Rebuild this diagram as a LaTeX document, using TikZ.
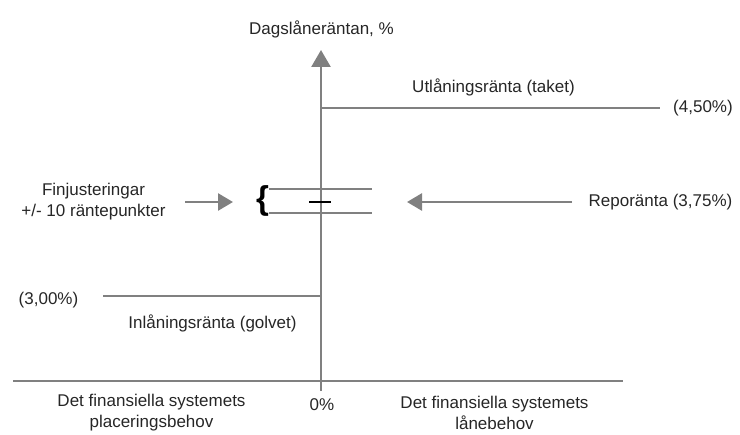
\documentclass[tikz,border=0pt]{standalone}
\usepackage{fontspec}
\setmainfont{Liberation Sans}
\usetikzlibrary{arrows.meta}
\definecolor{axisgray}{RGB}{128,128,128}
\begin{document}
\begin{tikzpicture}[x=1bp,y=-1bp,
  lbl/.style={inner sep=0pt,font=\fontsize{17bp}{21bp}\selectfont,text=black!85},
  lbltwo/.style={lbl,align=center},
  axisline/.style={draw=axisgray,line width=2.6bp},
  rateline/.style={draw=axisgray,line width=2.6bp},
  bandline/.style={draw=axisgray,line width=2bp},
  tickline/.style={draw=black,line width=1.1bp},
  grayarrow/.style={draw=axisgray,line width=2.6bp,-{Triangle[length=15bp,width=17bp]},fill=axisgray},
  uparrow/.style={draw=axisgray,line width=2.6bp,-{Triangle[length=17bp,width=19bp]},fill=axisgray}
]
\useasboundingbox (0,0) rectangle (740,435);
% coordinates
\coordinate (vbot) at (321,391);
\coordinate (vtop) at (321,50);
\coordinate (hleft) at (13,381);
\coordinate (hright) at (623,381);
\coordinate (utlA) at (321,108);
\coordinate (utlB) at (660,108);
\coordinate (inlA) at (103,296);
\coordinate (inlB) at (321,296);
\coordinate (bandTL) at (269,189);
\coordinate (bandTR) at (372,189);
\coordinate (bandBL) at (269,213);
\coordinate (bandBR) at (372,213);
\coordinate (tickL) at (309,202);
\coordinate (tickR) at (331,202);
\coordinate (larrS) at (185,202);
\coordinate (larrE) at (233,202);
\coordinate (rarrS) at (572,202);
\coordinate (rarrE) at (407,202);
% axes
\draw[axisline] (hleft) -- (hright);
\draw[uparrow] (vbot) -- (vtop);
% rate lines
\draw[rateline] (utlA) -- (utlB);
\draw[rateline] (inlA) -- (inlB);
\draw[bandline] (bandTL) -- (bandTR);
\draw[bandline] (bandBL) -- (bandBR);
\draw[tickline] (tickL) -- (tickR);
% arrows
\draw[grayarrow] (larrS) -- (larrE);
\draw[grayarrow] (rarrS) -- (rarrE);
% brace
\node[inner sep=0pt,font=\fontsize{33bp}{33bp}\selectfont\bfseries] (brace) at (262.5,201) {\{};
% labels
\node[lbl] (title) at (321.5,29) {Dagslåneräntan, \%};
\node[lbl] (utl) at (493.5,87) {Utlåningsränta (taket)};
\node[lbl] (p450) at (703,108) {(4,50\%)};
\node[lbltwo] (fin) at (93.5,201.5) {Finjusteringar\\+/- 10 räntepunkter};
\node[lbl] (repo) at (660.5,202) {Reporänta (3,75\%)};
\node[lbl] (p300) at (48.5,300) {(3,00\%)};
\node[lbl] (inl) at (212.5,323) {Inlåningsränta (golvet)};
\node[lbltwo] (bl) at (151.5,413) {Det finansiella systemets\\placeringsbehov};
\node[lbl] (zero) at (322,405) {0\%};
\node[lbltwo] (br) at (494.5,413) {Det finansiella systemets\\lånebehov};
\end{tikzpicture}
\end{document}
